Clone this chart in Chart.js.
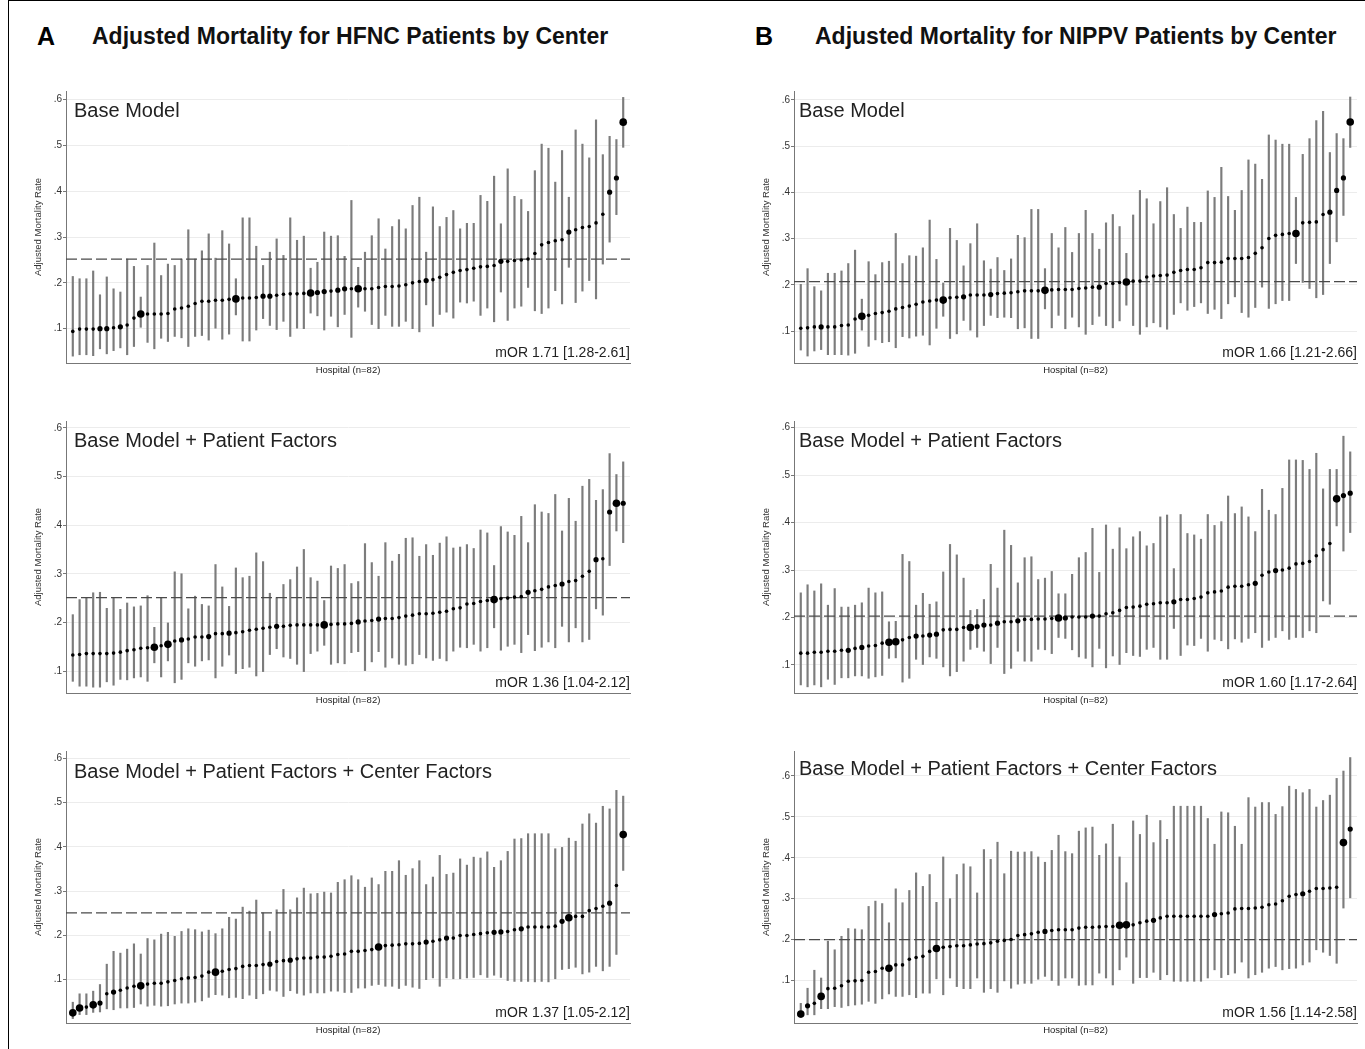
<!DOCTYPE html>
<html>
<head>
<meta charset="utf-8">
<script src="https://cdn.jsdelivr.net/npm/chart.js@4.4.1/dist/chart.umd.min.js"></script>
<style>
body { margin: 0; background: #fff; font-family: "Liberation Sans", Arial, sans-serif; }
#page { position: relative; width: 1365px; height: 1049px; overflow: hidden; }
.frame { position: absolute; left: 8px; top: 0; width: 1400px; height: 1100px; border-left: 1px solid #000; border-top: 1px solid #000; }
.letter { position: absolute; font-weight: bold; font-size: 25px; line-height: 25px; color: #000; }
.head { position: absolute; font-weight: bold; font-size: 23px; line-height: 23px; color: #111; white-space: nowrap; }
.box { position: absolute; }
.ptitle { position: absolute; font-size: 20px; line-height: 20px; color: #222; white-space: nowrap; }
.mor { position: absolute; font-size: 14px; line-height: 14px; color: #222; white-space: nowrap; text-align: right; }
</style>
</head>
<body>
<div id="page">
  <div class="frame"></div>
  <div class="letter" style="left:37px;top:24px">A</div>
  <div class="head" style="left:92px;top:25px">Adjusted Mortality for HFNC Patients by Center</div>
  <div class="letter" style="left:755px;top:24px">B</div>
  <div class="head" style="left:815px;top:25px">Adjusted Mortality for NIPPV Patients by Center</div>
</div>
<script>
// hospitals ranked by adjusted mortality (x position)
const hospitals = [1,2,3,4,5,6,7,8,9,10,11,12,13,14,15,16,17,18,19,20,21,22,23,24,25,26,27,28,29,30,31,32,33,34,35,36,37,38,39,40,41,42,43,44,45,46,47,48,49,50,51,52,53,54,55,56,57,58,59,60,61,62,63,64,65,66,67,68,69,70,71,72,73,74,75,76,77,78,79,80,81,82];
const yTicks = [0.1, 0.2, 0.3, 0.4, 0.5, 0.6];

// HFNC - base model
const hfncBaseEst = [.094,.099,.099,.099,.100,.100,.102,.104,.108,.123, .132,.132,.132,.132,.133,.143,.145,.149,.155,.160, .160,.162,.162,.164,.165,.167,.167,.168,.171,.171, .173,.175,.176,.176,.177,.178,.179,.181,.182,.184, .187,.187,.187,.187,.187,.190,.192,.192,.193,.196, .200,.203,.205,.207,.212,.218,.223,.227,.229,.232, .235,.236,.238,.247,.247,.249,.250,.252,.264,.283, .288,.292,.294,.311,.316,.321,.323,.331,.350,.398, .429,.551];
const hfncBaseHi = [.214,.209,.209,.226,.174,.213,.187,.180,.252,.236, .169,.238,.287,.216,.241,.238,.252,.316,.252,.270, .307,.254,.314,.285,.209,.342,.342,.280,.238,.267, .296,.260,.342,.293,.302,.232,.245,.311,.302,.303, .258,.380,.234,.267,.303,.340,.274,.323,.338,.318, .369,.387,.267,.366,.323,.343,.358,.318,.330,.330, .391,.378,.433,.329,.449,.389,.382,.356,.445,.503, .494,.420,.489,.387,.534,.503,.473,.556,.480,.520, .513,.605];
const hfncBaseLo = [.040,.043,.043,.041,.056,.045,.052,.058,.043,.061, .103,.070,.056,.079,.072,.083,.080,.061,.083,.085, .075,.101,.077,.088,.130,.073,.073,.097,.122,.107, .098,.116,.083,.101,.100,.134,.128,.097,.127,.104, .131,.081,.147,.138,.109,.100,.129,.105,.105,.116, .100,.093,.152,.105,.131,.136,.123,.158,.156,.160, .129,.145,.115,.180,.118,.145,.149,.190,.139,.133, .145,.183,.154,.234,.157,.182,.205,.165,.241,.289, .349,.496];
const hfncBaseSize = [1,1,1,1,2,2,1,2,1,1, 3,1,1,1,1,1,1,1,1,1, 1,1,1,1,3,1,1,1,2,2, 1,1,1,1,1,3,2,2,1,2, 2,1,3,1,1,1,1,1,1,1, 1,1,2,1,1,1,1,1,1,1, 1,1,1,2,1,1,1,1,1,1, 1,1,1,2,1,1,1,1,1,2, 2,3];

// NIPPV - base model
const nippvBaseEst = [.106,.107,.109,.109,.109,.109,.112,.113,.126,.132, .134,.138,.140,.143,.148,.151,.154,.158,.163,.165, .167,.167,.172,.173,.174,.178,.178,.178,.179,.181, .182,.183,.185,.187,.187,.187,.188,.189,.190,.190, .190,.192,.193,.195,.195,.203,.203,.205,.206,.208, .208,.217,.219,.220,.221,.227,.231,.233,.233,.237, .248,.248,.249,.257,.257,.257,.259,.268,.280,.300, .307,.309,.311,.311,.334,.335,.336,.352,.357,.404, .431,.552];
const nippvBaseHi = [.201,.235,.196,.187,.225,.225,.230,.246,.275,.169, .250,.222,.248,.251,.311,.246,.263,.262,.280,.340, .255,.204,.322,.296,.241,.289,.332,.252,.234,.259, .231,.256,.307,.302,.363,.363,.235,.311,.280,.324, .270,.311,.361,.311,.277,.334,.352,.326,.268,.351, .404,.386,.332,.380,.410,.352,.322,.368,.335,.335, .403,.389,.454,.391,.361,.404,.470,.461,.428,.524, .513,.504,.504,.389,.482,.516,.555,.575,.486,.527, .516,.606];
const nippvBaseLo = [.059,.046,.057,.060,.049,.049,.049,.048,.052,.102, .067,.081,.075,.077,.064,.088,.085,.089,.091,.070, .106,.132,.084,.094,.123,.102,.087,.112,.134,.129, .130,.129,.105,.107,.084,.084,.148,.107,.134,.105, .130,.109,.093,.114,.132,.112,.107,.122,.156,.112, .093,.109,.118,.109,.104,.136,.161,.145,.153,.161, .138,.147,.127,.159,.174,.140,.130,.151,.195,.149, .159,.166,.166,.246,.205,.192,.172,.179,.246,.293, .350,.497];
const nippvBaseSize = [1,1,1,2,1,1,1,1,1,3, 1,1,1,1,1,1,1,1,1,1, 1,3,1,1,2,1,1,1,2,1, 1,1,1,1,1,1,3,1,1,1, 1,1,1,1,2,1,1,1,3,1, 1,1,1,1,1,1,1,1,1,1, 1,1,1,1,1,1,1,1,1,1, 1,1,1,3,1,1,1,1,2,2, 2,3];

// HFNC - base model + patient factors
const hfncPatEst = [.133,.134,.136,.136,.136,.136,.137,.139,.142,.144, .147,.148,.149,.152,.155,.162,.164,.166,.170,.170, .171,.177,.177,.178,.179,.181,.184,.186,.188,.190, .192,.192,.194,.195,.195,.195,.195,.195,.196,.197, .197,.198,.201,.203,.204,.207,.208,.208,.210,.213, .215,.218,.218,.219,.221,.223,.228,.230,.238,.239, .243,.245,.247,.249,.250,.252,.253,.262,.265,.268, .273,.276,.279,.284,.286,.295,.305,.329,.331,.427, .445,.445];
const hfncPatHi = [.216,.247,.251,.261,.262,.229,.251,.227,.240,.232, .234,.255,.190,.251,.199,.304,.300,.228,.254,.237, .234,.319,.273,.233,.312,.292,.295,.343,.325,.260, .251,.278,.288,.314,.350,.292,.285,.245,.316,.311, .319,.280,.284,.362,.323,.295,.364,.326,.340,.373, .374,.336,.360,.338,.363,.376,.353,.355,.360,.352, .390,.384,.317,.397,.386,.379,.418,.364,.442,.427, .424,.463,.388,.455,.408,.480,.494,.451,.473,.547, .504,.530];
const hfncPatLo = [.079,.069,.069,.067,.067,.078,.071,.083,.082,.086, .088,.079,.117,.088,.121,.076,.083,.117,.110,.121, .123,.086,.110,.133,.095,.105,.108,.090,.099,.134, .146,.129,.126,.114,.099,.136,.141,.153,.114,.117, .115,.138,.140,.101,.119,.140,.108,.127,.114,.112, .115,.134,.127,.122,.126,.121,.141,.149,.148,.155, .141,.148,.189,.143,.151,.155,.138,.175,.142,.149, .160,.148,.192,.160,.189,.160,.165,.228,.215,.317, .388,.364];
const hfncPatSize = [1,1,1,1,1,1,1,1,1,1, 1,1,3,1,3,1,2,1,1,1, 2,1,1,2,1,1,1,1,1,1, 2,1,1,1,1,1,1,3,1,1, 1,1,2,1,1,2,1,1,1,1, 1,1,1,1,1,1,1,1,1,1, 1,1,3,1,1,1,1,2,1,1, 1,1,2,1,1,1,1,2,1,2, 3,2];

// NIPPV - base model + patient factors
const nippvPatEst = [.125,.125,.127,.127,.129,.129,.131,.131,.135,.137, .140,.141,.146,.148,.149,.153,.158,.161,.161,.163, .165,.174,.175,.175,.179,.179,.181,.184,.184,.188, .191,.191,.193,.196,.196,.197,.197,.198,.199,.199, .201,.201,.201,.203,.203,.208,.210,.215,.221,.222, .224,.228,.229,.231,.231,.233,.238,.238,.240,.243, .252,.254,.256,.264,.266,.266,.269,.272,.289,.296, .299,.300,.304,.313,.314,.318,.330,.343,.356,.450, .457,.462];
const nippvPatHi = [.252,.269,.256,.271,.226,.261,.222,.222,.226,.231, .262,.252,.254,.191,.192,.333,.318,.226,.251,.228, .233,.296,.354,.332,.283,.215,.217,.238,.312,.262, .384,.352,.273,.326,.328,.280,.283,.297,.250,.250, .291,.326,.337,.388,.295,.395,.344,.389,.345,.370, .381,.351,.356,.412,.416,.303,.417,.377,.374,.365, .417,.394,.402,.456,.419,.433,.412,.381,.470,.426, .417,.472,.532,.532,.531,.512,.546,.471,.512,.512, .582,.549];
const nippvPatLo = [.058,.054,.058,.054,.070,.059,.073,.073,.077,.077, .072,.075,.078,.114,.115,.064,.072,.112,.101,.117, .114,.096,.077,.086,.108,.133,.137,.129,.103,.137, .082,.093,.129,.108,.108,.133,.132,.124,.158,.156, .132,.117,.114,.096,.135,.094,.119,.101,.126,.120, .118,.133,.137,.112,.112,.177,.120,.142,.141,.156, .129,.154,.151,.134,.155,.148,.156,.168,.137,.152, .158,.172,.154,.158,.158,.172,.168,.235,.228,.393, .340,.379];
const nippvPatSize = [1,1,1,1,1,1,1,2,1,2, 1,1,1,3,3,1,1,2,1,2, 2,1,1,1,1,3,2,2,1,2, 1,1,2,1,1,1,1,1,3,2, 1,1,1,2,1,1,1,1,1,1, 1,1,1,1,1,2,1,1,1,1, 1,1,1,1,1,1,1,2,1,1, 2,1,1,1,1,1,1,1,1,3, 2,2];

// HFNC - base model + patient factors + center factors
const hfncCtrEst = [.025,.036,.038,.043,.047,.068,.072,.076,.081,.085, .086,.090,.092,.092,.095,.098,.102,.104,.105,.108, .117,.117,.119,.123,.125,.130,.132,.132,.134,.135, .141,.143,.144,.147,.149,.149,.151,.151,.153,.157, .158,.164,.164,.166,.168,.174,.177,.178,.179,.181, .181,.182,.185,.187,.190,.194,.194,.200,.200,.202, .204,.206,.207,.208,.209,.213,.215,.219,.219,.219, .219,.221,.232,.240,.243,.243,.256,.261,.266,.273, .313,.428];
const hfncCtrHi = [.049,.068,.068,.074,.089,.135,.164,.160,.169,.181, .158,.193,.190,.203,.207,.198,.209,.215,.213,.208, .212,.204,.215,.241,.237,.264,.255,.280,.251,.209, .258,.304,.258,.285,.307,.294,.295,.298,.296,.320, .326,.335,.326,.309,.330,.315,.345,.345,.369,.336, .351,.369,.315,.332,.381,.338,.341,.373,.359,.377, .375,.389,.354,.369,.390,.418,.419,.430,.430,.430, .430,.396,.399,.420,.413,.452,.475,.454,.492,.486, .528,.515];
const hfncCtrLo = [.012,.021,.021,.026,.027,.034,.032,.036,.036,.037, .045,.040,.042,.040,.041,.045,.047,.047,.049,.052, .060,.066,.065,.059,.060,.057,.065,.057,.068,.076, .074,.062,.075,.069,.065,.070,.070,.070,.074,.074, .071,.071,.081,.081,.087,.089,.085,.085,.080,.087, .083,.080,.100,.104,.085,.104,.102,.102,.104,.105, .111,.105,.110,.105,.098,.096,.096,.096,.095,.096, .095,.102,.123,.125,.128,.113,.117,.130,.120,.130, .157,.347];
const hfncCtrSize = [3,3,1,3,2,1,2,1,1,1, 3,1,1,1,1,1,1,1,1,1, 1,3,1,1,1,1,1,1,1,2, 1,1,2,1,1,1,1,1,1,1, 1,1,1,1,1,3,1,1,1,1, 1,1,2,1,1,2,1,1,1,1, 1,1,2,2,1,1,2,1,1,1, 1,1,2,3,1,1,1,1,1,2, 1,3];

// NIPPV - base model + patient factors + center factors
const nippvCtrEst = [.018,.038,.044,.061,.080,.081,.087,.098,.099,.100, .120,.122,.130,.130,.138,.138,.152,.156,.159,.171, .178,.181,.183,.185,.185,.187,.189,.190,.192,.196, .198,.200,.210,.212,.214,.218,.220,.222,.224,.224, .224,.228,.230,.230,.231,.232,.232,.235,.236,.236, .241,.245,.247,.253,.257,.257,.257,.257,.257,.257, .257,.261,.263,.265,.275,.276,.276,.277,.279,.285, .287,.295,.306,.310,.312,.318,.325,.325,.326,.328, .437,.470];
const nippvCtrHi = [.044,.081,.125,.106,.196,.175,.208,.227,.226,.224, .281,.294,.288,.241,.324,.290,.320,.363,.330,.359, .291,.402,.300,.359,.385,.378,.314,.420,.396,.438, .361,.416,.414,.414,.415,.402,.389,.418,.455,.415, .410,.465,.473,.475,.406,.434,.482,.402,.339,.490, .457,.504,.437,.491,.445,.526,.526,.526,.526,.526, .496,.433,.512,.510,.477,.433,.547,.524,.535,.535, .506,.525,.575,.567,.559,.567,.524,.540,.553,.594, .612,.645];
const nippvCtrLo = [.009,.016,.016,.031,.031,.036,.034,.038,.040,.042, .049,.044,.055,.067,.061,.061,.065,.058,.069,.069, .104,.065,.106,.085,.080,.080,.106,.071,.080,.071, .099,.081,.091,.093,.093,.103,.110,.100,.088,.106, .106,.088,.089,.089,.118,.106,.089,.126,.157,.093, .107,.107,.120,.102,.114,.098,.098,.098,.098,.098, .106,.126,.107,.114,.118,.145,.106,.114,.120,.130, .134,.126,.129,.130,.138,.145,.175,.169,.161,.142, .277,.302];
const nippvCtrSize = [3,2,1,3,1,1,1,1,1,1, 1,1,1,3,1,1,1,1,1,1, 3,1,1,1,1,1,1,1,1,1, 1,1,1,1,1,1,2,1,1,1, 1,1,1,1,1,1,1,3,3,1, 1,1,2,1,1,1,1,1,1,1, 1,2,1,1,1,1,1,1,1,1, 1,1,1,1,2,1,1,1,1,1, 3,2];

// overall mean (dashed line) and median odds ratios
const refLines = [0.252, 0.207, 0.251, 0.203, 0.251, 0.200];
const morLabels = ['mOR 1.71 [1.28-2.61]', 'mOR 1.66 [1.21-2.66]', 'mOR 1.36 [1.04-2.12]', 'mOR 1.60 [1.17-2.64]', 'mOR 1.37 [1.05-2.12]', 'mOR 1.56 [1.14-2.58]'];
const panelTitles = ['Base Model', 'Base Model', 'Base Model + Patient Factors', 'Base Model + Patient Factors', 'Base Model + Patient Factors + Center Factors', 'Base Model + Patient Factors + Center Factors'];

const FONT = '"Liberation Sans", Arial, sans-serif';
const radius = { 1: 1.8, 2: 2.6, 3: 3.8 };
const page = document.getElementById('page');

const panels = [
  { est: hfncBaseEst, lo: hfncBaseLo, hi: hfncBaseHi, size: hfncBaseSize, L: 66, R: 630, T: 91, B: 363, ymin: 0.025, ymax: 0.619, tx: 74, ty: 100 },
  { est: nippvBaseEst, lo: nippvBaseLo, hi: nippvBaseHi, size: nippvBaseSize, L: 794, R: 1357, T: 91, B: 363, ymin: 0.031, ymax: 0.619, tx: 799, ty: 100 },
  { est: hfncPatEst, lo: hfncPatLo, hi: hfncPatHi, size: hfncPatSize, L: 66, R: 630, T: 421, B: 693, ymin: 0.055, ymax: 0.614, tx: 74, ty: 430 },
  { est: nippvPatEst, lo: nippvPatLo, hi: nippvPatHi, size: nippvPatSize, L: 794, R: 1357, T: 421, B: 693, ymin: 0.041, ymax: 0.614, tx: 799, ty: 430 },
  { est: hfncCtrEst, lo: hfncCtrLo, hi: hfncCtrHi, size: hfncCtrSize, L: 66, R: 630, T: 751, B: 1023, ymin: 0.002, ymax: 0.617, tx: 74, ty: 761 },
  { est: nippvCtrEst, lo: nippvCtrLo, hi: nippvCtrHi, size: nippvCtrSize, L: 794, R: 1357, T: 751, B: 1023, ymin: -0.004, ymax: 0.661, tx: 799, ty: 758 }
];

function makePanel(p, k) {
  const wrap = document.createElement('div');
  wrap.className = 'box';
  const left = p.L - 36, top = p.T - 8;
  wrap.style.left = left + 'px';
  wrap.style.top = top + 'px';
  wrap.style.width = (36 + (p.R - p.L) + 4) + 'px';
  wrap.style.height = (8 + (p.B - p.T) + 13) + 'px';
  const cv = document.createElement('canvas');
  wrap.appendChild(cv);
  page.appendChild(wrap);

  const chart = new Chart(cv, {
    type: 'bar',
    data: {
      datasets: [
        { type: 'scatter', data: hospitals.map((h, i) => ({ x: h, y: p.est[i] })),
          pointRadius: p.size.map(s => radius[s]), backgroundColor: '#000', borderWidth: 0, order: 0 },
        { type: 'line', data: [{ x: 0, y: refLines[k] }, { x: 83, y: refLines[k] }],
          borderColor: '#4a4a4a', borderWidth: 1.3, borderDash: [11, 4], pointRadius: 0, order: 1 },
        { type: 'bar', data: hospitals.map((h, i) => ({ x: h, y: [p.lo[i], p.hi[i]] })),
          backgroundColor: '#7c7c7c', barThickness: 1.5, order: 2 }
      ]
    },
    options: {
      responsive: true, maintainAspectRatio: false, animation: false,
      layout: { padding: { top: 8, right: 4, left: 0, bottom: 0 } },
      plugins: { legend: { display: false }, tooltip: { enabled: false } },
      scales: {
        x: {
          type: 'linear', min: 0, max: 83, offset: false,
          grid: { display: false, offset: false },
          border: { display: true, color: '#777', width: 1 },
          ticks: { display: false },
          title: { display: true, text: 'Hospital (n=82)', color: '#222', font: { family: FONT, size: 9.5 }, padding: { top: 0, bottom: 0 } },
          afterFit: s => { s.height = 13; }
        },
        y: {
          type: 'linear', min: p.ymin, max: p.ymax,
          grid: { color: '#ececec', lineWidth: 1, tickLength: 3, tickColor: '#777', drawTicks: true },
          border: { display: true, color: '#777', width: 1 },
          afterBuildTicks: s => { s.ticks = yTicks.filter(v => v > s.min && v < s.max).map(v => ({ value: v })); },
          ticks: { padding: 1, color: '#333', font: { family: FONT, size: 10 },
                   callback: v => v.toFixed(1).replace(/^0/, '') },
          title: { display: true, text: 'Adjusted Mortality Rate', color: '#333', font: { family: FONT, size: 9.5 }, padding: { top: 3, bottom: 0 } },
          afterFit: s => { s.width = 36; }
        }
      }
    }
  });

  // nudge the box so the plot area lands on the intended spot
  const ca = chart.chartArea;
  wrap.style.left = (left + (p.L - (left + ca.left))) + 'px';
  wrap.style.top = (top + (p.T - (top + ca.top))) + 'px';

  const t = document.createElement('div');
  t.className = 'ptitle';
  t.style.left = p.tx + 'px';
  t.style.top = p.ty + 'px';
  t.textContent = panelTitles[k];
  page.appendChild(t);

  const m = document.createElement('div');
  m.className = 'mor';
  m.style.right = (1365 - p.R) + 'px';
  m.style.top = (p.B - 18) + 'px';
  m.textContent = morLabels[k];
  page.appendChild(m);
}

panels.forEach(makePanel);
</script>
</body>
</html>
